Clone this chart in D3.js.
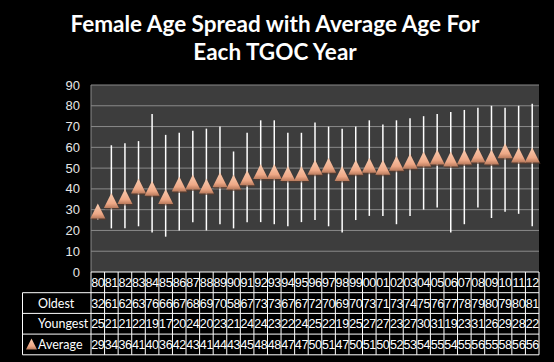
<!DOCTYPE html>
<html>
<head>
<meta charset="utf-8">
<script src="https://cdn.jsdelivr.net/npm/d3@7"></script>
<style>
  html, body { margin: 0; padding: 0; background: #000; }
  svg { display: block; }
</style>
</head>
<body>
<div id="chart"></div>
<script>
// TGOC years, two-digit labels
const years = ["80","81","82","83","84","85","86","87","88","89","90","91","92","93","94","95","96",
  "97","98","99","00","01","02","03","04","05","06","07","08","09","10","11","12"];
const oldest = [32,61,62,63,76,66,67,68,69,70,58,67,73,73,67,67,72,70,69,70,73,71,73,74,75,76,77,78,79,80,79,80,81];
const youngest = [25,21,21,22,19,17,20,24,20,23,21,24,24,23,22,24,25,22,19,25,27,27,23,27,30,31,19,23,31,26,29,28,22];
const average = [29,34,36,41,40,36,42,43,41,44,43,45,48,48,47,47,50,51,47,50,51,50,52,53,54,55,54,55,56,55,58,56,56];
const yTicks = [0,10,20,30,40,50,60,70,80,90];

const W = 554, H = 362;
const plot = { left: 91, right: 539, top: 85, bottom: 272 };
const rowH = 20.7;
const font = "'Liberation Sans', Arial, sans-serif";

const svg = d3.select("#chart").append("svg")
  .attr("width", W).attr("height", H)
  .style("background", "#000");

const defs = svg.append("defs");
const grad = defs.append("linearGradient").attr("id", "tri")
  .attr("x1", 0).attr("y1", 0).attr("x2", 0).attr("y2", 1);
grad.append("stop").attr("offset", "0%").attr("stop-color", "#f9cdb2");
grad.append("stop").attr("offset", "70%").attr("stop-color", "#eea886");
grad.append("stop").attr("offset", "100%").attr("stop-color", "#b97a5c");

// title
svg.append("text")
  .attr("x", W / 2).attr("y", 0)
  .attr("text-anchor", "middle")
  .attr("fill", "#fff")
  .style("font-family", "Lato, 'Open Sans', sans-serif")
  .style("font-weight", "bold")
  .style("font-size", "22.5px")
  .selectAll("tspan")
  .data(["Female Age Spread with Average Age For", "Each TGOC Year"])
  .join("tspan")
    .attr("x", W / 2 - 2)
    .attr("y", (d, i) => 32 + i * 28)
    .text(d => d);

const x = d3.scaleBand().domain(years).range([plot.left, plot.right]).padding(0);
const y = d3.scaleLinear().domain([0, 90]).range([plot.bottom, plot.top]);

// plot area
svg.append("rect")
  .attr("x", plot.left).attr("y", plot.top)
  .attr("width", plot.right - plot.left).attr("height", plot.bottom - plot.top)
  .attr("fill", "#3d3d3d");

// gridlines
svg.append("g")
  .selectAll("line")
  .data(yTicks.filter(t => t > 0))
  .join("line")
    .attr("x1", plot.left).attr("x2", plot.right)
    .attr("y1", d => y(d)).attr("y2", d => y(d))
    .attr("stroke", "#8a8a8a").attr("stroke-width", 1);

// left axis line
svg.append("line")
  .attr("x1", plot.left).attr("x2", plot.left)
  .attr("y1", plot.top).attr("y2", plot.bottom)
  .attr("stroke", "#8a8a8a");

// y axis labels
svg.append("g")
  .selectAll("text")
  .data(yTicks)
  .join("text")
    .attr("x", 80)
    .attr("y", d => y(d) + 4.5)
    .attr("text-anchor", "end")
    .attr("fill", "#e6e6e6")
    .style("font-family", font)
    .style("font-size", "13px")
    .text(d => d);

// high-low bars
svg.append("g")
  .selectAll("line")
  .data(years)
  .join("line")
    .attr("x1", d => x(d) + x.bandwidth() / 2)
    .attr("x2", d => x(d) + x.bandwidth() / 2)
    .attr("y1", (d, i) => y(oldest[i]))
    .attr("y2", (d, i) => y(youngest[i]))
    .attr("stroke", "#fff").attr("stroke-width", 1.5);

// average markers
const tri = (cx, cy, s) => `M${cx},${cy - s * 0.55} L${cx + s / 2},${cy + s * 0.45} L${cx - s / 2},${cy + s * 0.45} Z`;
const marks = svg.append("g");
marks.selectAll("path.shadow")
  .data(years)
  .join("path")
    .attr("class", "shadow")
    .attr("d", (d, i) => tri(x(d) + x.bandwidth() / 2 + 1, y(average[i]) + 1.5, 15))
    .attr("fill", "#5a3a2c").attr("opacity", 0.6);
marks.selectAll("path.tri")
  .data(years)
  .join("path")
    .attr("class", "tri")
    .attr("d", (d, i) => tri(x(d) + x.bandwidth() / 2, y(average[i]), 15))
    .attr("fill", "url(#tri)");

// data table
const table = svg.append("g");
const rows = [
  { label: "Oldest", vals: oldest },
  { label: "Youngest", vals: youngest },
  { label: "Average", vals: average }
];
const tTop = plot.bottom;
const tBottom = tTop + rowH * 4;

// horizontal lines
table.append("line")
  .attr("x1", plot.left).attr("x2", plot.right)
  .attr("y1", tTop).attr("y2", tTop)
  .attr("stroke", "#fff");
[1, 2, 3, 4].forEach(r => {
  table.append("line")
    .attr("x1", 22.5).attr("x2", plot.right)
    .attr("y1", tTop + r * rowH).attr("y2", tTop + r * rowH)
    .attr("stroke", "#fff");
});
// vertical lines
table.append("line")
  .attr("x1", 22.5).attr("x2", 22.5)
  .attr("y1", tTop + rowH).attr("y2", tBottom)
  .attr("stroke", "#fff");
table.selectAll("line.v")
  .data(years.concat(["end"]))
  .join("line")
    .attr("class", "v")
    .attr("x1", (d, i) => plot.left + i * x.bandwidth())
    .attr("x2", (d, i) => plot.left + i * x.bandwidth())
    .attr("y1", tTop).attr("y2", tBottom)
    .attr("stroke", "#fff");

const cellText = g => g
  .attr("fill", "#fff")
  .attr("text-anchor", "middle")
  .style("font-family", font)
  .style("font-size", "12.5px")
  .style("letter-spacing", "-0.4px");

table.append("g").call(cellText)
  .selectAll("text")
  .data(years)
  .join("text")
    .attr("x", d => x(d) + x.bandwidth() / 2)
    .attr("y", tTop + rowH / 2 + 4.5)
    .text(d => d);

rows.forEach((row, r) => {
  const cy = tTop + (r + 1) * rowH + rowH / 2 + 4.5;
  table.append("g").call(cellText)
    .selectAll("text")
    .data(row.vals)
    .join("text")
      .attr("x", (d, i) => x(years[i]) + x.bandwidth() / 2)
      .attr("y", cy)
      .text(d => d);
  table.append("text")
    .attr("x", 38).attr("y", cy)
    .attr("fill", "#fff")
    .style("font-family", "Lato, sans-serif")
    .style("font-size", "12.5px")
    .text(row.label);
});

// legend key in Average header
table.append("path")
  .attr("d", tri(31.5, tTop + 3.5 * rowH, 11))
  .attr("fill", "url(#tri)");
</script>
</body>
</html>
